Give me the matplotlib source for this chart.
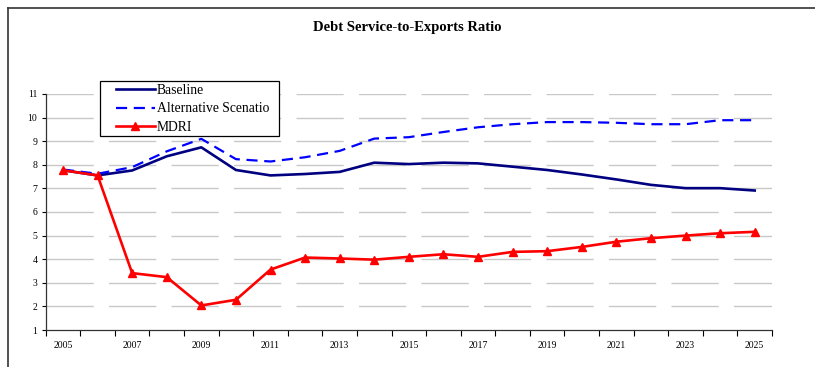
import numpy as np
import matplotlib.pyplot as plt
from matplotlib.lines import Line2D
from matplotlib.patches import Rectangle

# Debt service-to-exports ratio, 2005-2025
years = list(range(2005, 2026))
baseline = [7.77, 7.55, 7.76, 8.36, 8.74, 7.78, 7.55, 7.61, 7.70, 8.09, 8.03,
            8.09, 8.06, 7.92, 7.78, 7.59, 7.38, 7.15, 7.01, 7.01, 6.91]
alternative = [7.80, 7.62, 7.90, 8.57, 9.10, 8.24, 8.14, 8.32, 8.59, 9.11, 9.17,
               9.39, 9.59, 9.72, 9.81, 9.81, 9.78, 9.72, 9.72, 9.89, 9.89]
mdri = [7.77, 7.55, 3.41, 3.24, 2.04, 2.28, 3.56, 4.07, 4.03, 3.98, 4.10,
        4.21, 4.10, 4.31, 4.34, 4.52, 4.74, 4.89, 5.00, 5.10, 5.16]
year_labels = [str(y) for y in years[::2]]

plt.rcParams['font.family'] = ['Liberation Serif', 'DejaVu Serif']

W, H = 815, 367
fig = plt.figure(figsize=(W / 100, H / 100), dpi=100)
ax = fig.add_axes([45.7 / W, 1 - 330 / H, (772 - 45.7) / W, (330 - 94) / H])

x = np.arange(len(years))
ax.plot(x, baseline, color='#000080', lw=1.9, label='Baseline', zorder=3)
ax.plot(x, alternative, color='#0000ff', lw=1.6, ls=(0, (5, 3)),
        label='Alternative Scenatio', zorder=3)
ax.plot(x, mdri, color='#ff0000', lw=1.9, marker='^', ms=6,
        label='MDRI', zorder=4)

ax.set_xlim(-0.5, len(years) - 0.5)
ax.set_ylim(1, 11)
ax.set_yticks(range(1, 12))
ax.tick_params(axis='y', direction='out', length=3, width=0.8,
               labelsize=7, pad=3)

# tick marks sit between categories, labels on every other year
ax.set_xticks(np.arange(-0.5, len(years), 1.0))
ax.set_xticklabels([])
ax.tick_params(axis='x', which='major', direction='out', length=4, width=0.8)
ax.set_xticks(x[::2], minor=True)
ax.set_xticklabels(year_labels, minor=True)
ax.tick_params(axis='x', which='minor', length=0, labelsize=7, pad=8)

for v in range(2, 12):
    ax.axhline(v, color='#c8c8c8', lw=1.0, ls=(0, (34, 11)), zorder=1)

for s in ('top', 'right'):
    ax.spines[s].set_visible(False)
for s in ('left', 'bottom'):
    ax.spines[s].set_color('#333333')
    ax.spines[s].set_linewidth(0.9)

# legend box drawn separately so the inner padding can be set freely
fig.add_artist(Rectangle((100 / W, 1 - 136 / H), 179 / W, 55 / H,
                         transform=fig.transFigure, facecolor='white',
                         edgecolor='black', lw=0.9, zorder=5))
leg = fig.legend(loc='upper left', bbox_to_anchor=(113 / W, 1 - 81 / H),
                 fontsize=9.8, frameon=False, handlelength=2.9,
                 handletextpad=0.1, borderpad=0.2, labelspacing=0.42,
                 borderaxespad=0)
leg.set_zorder(6)
for h in leg.legend_handles:
    h.set_markersize(5.5)

fig.text(0.5, 1 - 28 / H, 'Debt Service-to-Exports Ratio', ha='center',
         va='center', fontsize=10.5, fontweight='bold')

# outer chart border (top and left edges)
fig.add_artist(Line2D([7.5 / W, 1], [1 - 7.5 / H] * 2, transform=fig.transFigure,
                      color='#333333', lw=1.2))
fig.add_artist(Line2D([7.5 / W] * 2, [0, 1 - 7.5 / H], transform=fig.transFigure,
                      color='#333333', lw=1.2))

fig.savefig('out.png', dpi=100)
